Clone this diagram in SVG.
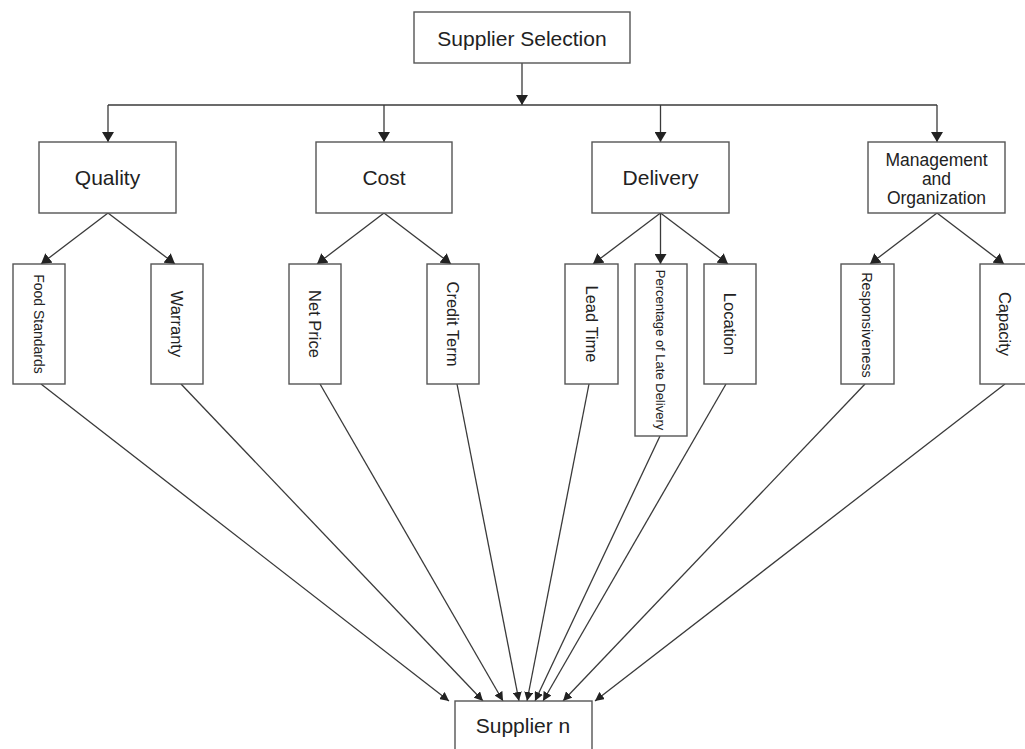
<svg xmlns="http://www.w3.org/2000/svg" width="1025" height="749" viewBox="0 0 1025 749">
<style>
.box{fill:#fff;stroke:#555;stroke-width:1.4}
.ln{fill:none;stroke:#3a3a3a;stroke-width:1.3}
.t{font-family:"Liberation Sans",Arial,sans-serif;fill:#222;text-anchor:middle}
.big{font-size:21px}
.mid{font-size:17.5px}
.v{font-size:16.5px}
</style>
<defs>
<marker id="ah" viewBox="0 0 10 12" refX="10" refY="6" markerWidth="10" markerHeight="12" markerUnits="userSpaceOnUse" orient="auto">
<path d="M0,0 L10,6 L0,12 z" fill="#222"/>
</marker>
<marker id="ahs" viewBox="0 0 9 9" refX="9" refY="4.5" markerWidth="9" markerHeight="9" markerUnits="userSpaceOnUse" orient="auto">
<path d="M0,0 L9,4.5 L0,9 z" fill="#222"/>
</marker>
</defs>
<rect width="1025" height="749" fill="#fff"/>
<g id="connectors">
<line class="ln" x1="522" y1="63" x2="522" y2="105" marker-end="url(#ah)"/>
<line class="ln" x1="108" y1="105" x2="937" y2="105"/>
<line class="ln" x1="108" y1="105" x2="108" y2="142" marker-end="url(#ah)"/>
<line class="ln" x1="384" y1="105" x2="384" y2="142" marker-end="url(#ah)"/>
<line class="ln" x1="660.5" y1="105" x2="660.5" y2="142" marker-end="url(#ah)"/>
<line class="ln" x1="937" y1="105" x2="937" y2="142" marker-end="url(#ah)"/>
<line class="ln" x1="108" y1="213" x2="41" y2="264" marker-end="url(#ah)"/>
<line class="ln" x1="108" y1="213" x2="175" y2="264" marker-end="url(#ah)"/>
<line class="ln" x1="384" y1="213" x2="317" y2="264" marker-end="url(#ah)"/>
<line class="ln" x1="384" y1="213" x2="451" y2="264" marker-end="url(#ah)"/>
<line class="ln" x1="660.5" y1="213" x2="593" y2="264" marker-end="url(#ah)"/>
<line class="ln" x1="660.5" y1="213" x2="660.5" y2="264" marker-end="url(#ah)"/>
<line class="ln" x1="660.5" y1="213" x2="728" y2="264" marker-end="url(#ah)"/>
<line class="ln" x1="937" y1="213" x2="870" y2="264" marker-end="url(#ah)"/>
<line class="ln" x1="937" y1="213" x2="1004" y2="264" marker-end="url(#ah)"/>
<line class="ln" x1="41" y1="384" x2="449" y2="701" marker-end="url(#ahs)"/>
<line class="ln" x1="181" y1="384" x2="483" y2="701" marker-end="url(#ahs)"/>
<line class="ln" x1="320" y1="384" x2="503" y2="701" marker-end="url(#ahs)"/>
<line class="ln" x1="457" y1="384" x2="519" y2="701" marker-end="url(#ahs)"/>
<line class="ln" x1="589" y1="384" x2="527" y2="701" marker-end="url(#ahs)"/>
<line class="ln" x1="660" y1="436" x2="535" y2="701" marker-end="url(#ahs)"/>
<line class="ln" x1="726" y1="384" x2="543" y2="701" marker-end="url(#ahs)"/>
<line class="ln" x1="865" y1="384" x2="563" y2="701" marker-end="url(#ahs)"/>
<line class="ln" x1="1005" y1="384" x2="595" y2="701" marker-end="url(#ahs)"/>
</g>
<g id="supplier-selection">
<rect class="box" x="414" y="12" width="216" height="51"/>
<text class="t big" x="522" y="45.5">Supplier Selection</text>
</g>
<g id="quality">
<rect class="box" x="39" y="142" width="137" height="71"/>
<text class="t big" x="107.5" y="185">Quality</text>
</g>
<g id="cost">
<rect class="box" x="316" y="142" width="136" height="71"/>
<text class="t big" x="384" y="185">Cost</text>
</g>
<g id="delivery">
<rect class="box" x="592" y="142" width="137" height="71"/>
<text class="t big" x="660.5" y="185">Delivery</text>
</g>
<g id="management">
<rect class="box" x="868" y="142" width="137" height="71"/>
<text class="t mid" x="936.5" y="166">Management</text>
<text class="t mid" x="936.5" y="185">and</text>
<text class="t mid" x="936.5" y="203.5">Organization</text>
</g>
<g id="food-standards">
<rect class="box" x="13" y="264" width="52" height="120"/>
<text class="t" style="font-size:14px" transform="translate(39 324) rotate(90)" dy="0.35em">Food Standards</text>
</g>
<g id="warranty">
<rect class="box" x="151" y="264" width="52" height="120"/>
<text class="t v" transform="translate(177 324) rotate(90)" dy="0.35em">Warranty</text>
</g>
<g id="net-price">
<rect class="box" x="289" y="264" width="52" height="120"/>
<text class="t v" transform="translate(315 324) rotate(90)" dy="0.35em">Net Price</text>
</g>
<g id="credit-term">
<rect class="box" x="427" y="264" width="52" height="120"/>
<text class="t v" transform="translate(453 324) rotate(90)" dy="0.35em">Credit Term</text>
</g>
<g id="lead-time">
<rect class="box" x="565" y="264" width="53" height="120"/>
<text class="t v" transform="translate(591.5 324) rotate(90)" dy="0.35em">Lead Time</text>
</g>
<g id="late-delivery">
<rect class="box" x="635" y="264" width="52" height="172"/>
<text class="t" style="font-size:13px" transform="translate(661 350) rotate(90)" dy="0.35em">Percentage of Late Delivery</text>
</g>
<g id="location">
<rect class="box" x="704" y="264" width="52" height="120"/>
<text class="t v" transform="translate(730 324) rotate(90)" dy="0.35em">Location</text>
</g>
<g id="responsiveness">
<rect class="box" x="841" y="264" width="53" height="120"/>
<text class="t" style="font-size:14.4px" transform="translate(867.5 325) rotate(90)" dy="0.35em">Responsiveness</text>
</g>
<g id="capacity">
<rect class="box" x="980" y="264" width="52" height="120"/>
<text class="t v" transform="translate(1005 324) rotate(90)" dy="0.35em">Capacity</text>
</g>
<g id="supplier-n">
<rect class="box" x="455" y="701" width="137" height="71"/>
<text class="t big" x="523" y="733">Supplier n</text>
</g>
</svg>
